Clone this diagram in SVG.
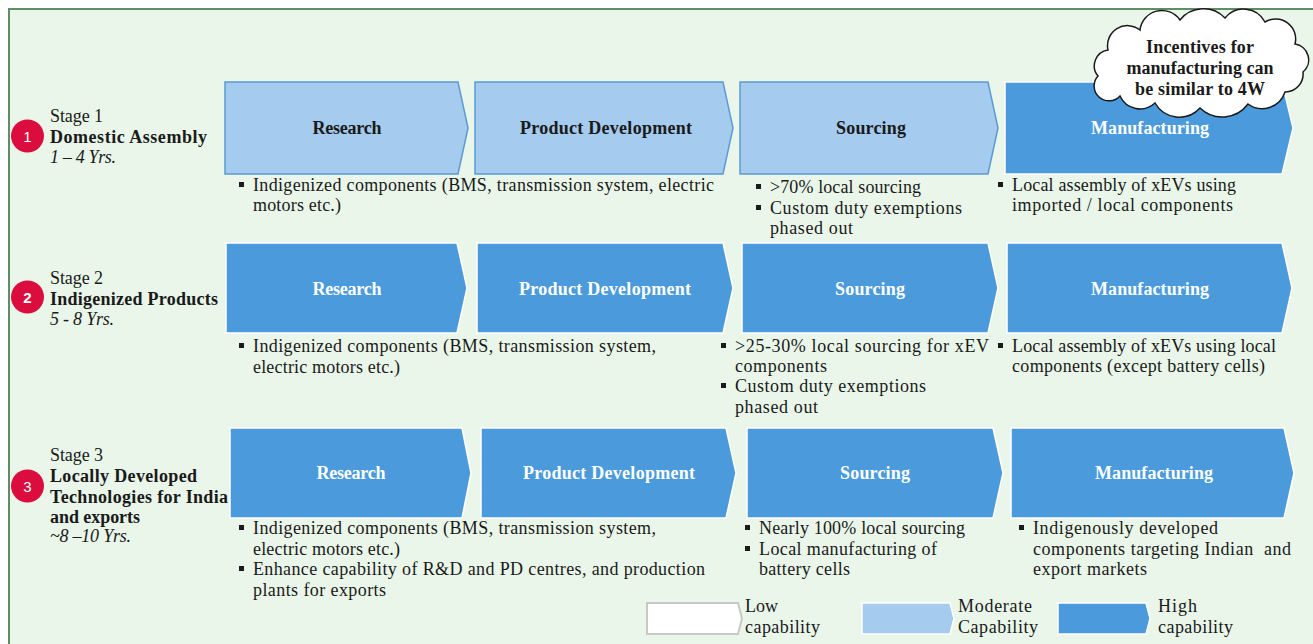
<svg xmlns="http://www.w3.org/2000/svg" width="1313" height="644" viewBox="0 0 1313 644">
<style>
.t{font-family:"Liberation Serif","Times New Roman",serif;font-size:18px;fill:#1a1a1a}
.b{font-weight:bold}
.i{font-style:italic}
.cl{font-family:"Liberation Serif",serif;font-size:18px;font-weight:bold;text-anchor:middle}
.lt{fill:#1a1a1a}
.wt{fill:#ffffff}
.mod{fill:#A5CBEE;stroke:#5B9BD5;stroke-width:1.5}
.high{fill:#4A9ADC;stroke:#ffffff;stroke-width:1.5}
.low{fill:#ffffff;stroke:#c8c8c8;stroke-width:2}
.modl{fill:#A5CBEE;stroke:#ffffff;stroke-width:1.5}
.num{font-family:"Liberation Sans",Arial,sans-serif;font-size:15px;fill:#fff;text-anchor:middle}
.bul{fill:#1a1a1a}
</style>
<rect x="0" y="0" width="1313" height="644" fill="#ffffff"/>
<rect x="9" y="9" width="1312" height="645" fill="#E9F6E9" stroke="#5E8E63" stroke-width="2"/>

<g id="stage1">
<circle cx="27.5" cy="136" r="16.5" fill="#DA0D3E"/>
<text class="num" x="27.5" y="141.5">1</text>
<text class="t" x="50" y="122" textLength="53">Stage 1</text>
<text class="t b" x="50" y="143" textLength="157">Domestic Assembly</text>
<text class="t i" x="50" y="163" textLength="66">1 – 4 Yrs.</text>
</g>
<g id="stage2">
<circle cx="27.5" cy="297" r="16.5" fill="#DA0D3E"/>
<text class="num" x="27.5" y="302.5" font-weight="bold">2</text>
<text class="t" x="50" y="284" textLength="53">Stage 2</text>
<text class="t b" x="50" y="305" textLength="168">Indigenized Products</text>
<text class="t i" x="50" y="325" textLength="64">5 - 8 Yrs.</text>
</g>
<g id="stage3">
<circle cx="27.5" cy="486" r="16.5" fill="#DA0D3E"/>
<text class="num" x="27.5" y="491.5">3</text>
<text class="t" x="50" y="461" textLength="53">Stage 3</text>
<text class="t b" x="50" y="482" textLength="147">Locally Developed</text>
<text class="t b" x="50" y="503" textLength="178">Technologies for India</text>
<text class="t b" x="50" y="523" textLength="90">and exports</text>
<text class="t i" x="50" y="542" textLength="81">~8 –10 Yrs.</text>
</g>

<!-- Row 1 -->
<g id="r1-research">
<polygon class="mod" points="225,82 458,82 468,128 458,174 225,174"/>
<text class="cl lt" x="347" y="134" textLength="69">Research</text>
</g>
<g id="r1-pd">
<polygon class="mod" points="475,82 723,82 733,128 723,174 475,174"/>
<text class="cl lt" x="606" y="134" textLength="172">Product Development</text>
</g>
<g id="r1-sourcing">
<polygon class="mod" points="740,82 988,82 998,128 988,174 740,174"/>
<text class="cl lt" x="871" y="134" textLength="70">Sourcing</text>
</g>
<g id="r1-manufacturing">
<polygon class="high" points="1005,82 1282,82 1293,128 1282,174 1005,174"/>
<text class="cl wt" x="1150" y="134" textLength="118">Manufacturing</text>
</g>

<!-- Row 2 -->
<g id="r2-research">
<polygon class="high" points="226,243 457,243 467,288 457,333 226,333"/>
<text class="cl wt" x="347" y="295" textLength="69">Research</text>
</g>
<g id="r2-pd">
<polygon class="high" points="477,243 723,243 733,288 723,333 477,333"/>
<text class="cl wt" x="605" y="295" textLength="172">Product Development</text>
</g>
<g id="r2-sourcing">
<polygon class="high" points="742,243 988,243 998,288 988,333 742,333"/>
<text class="cl wt" x="870" y="295" textLength="70">Sourcing</text>
</g>
<g id="r2-manufacturing">
<polygon class="high" points="1007,243 1282,243 1292,288 1282,333 1007,333"/>
<text class="cl wt" x="1150" y="295" textLength="118">Manufacturing</text>
</g>

<!-- Row 3 -->
<g id="r3-research">
<polygon class="high" points="230,428 462,428 471,473 462,518 230,518"/>
<text class="cl wt" x="351" y="479" textLength="69">Research</text>
</g>
<g id="r3-pd">
<polygon class="high" points="481,428 726,428 736,473 726,518 481,518"/>
<text class="cl wt" x="609" y="479" textLength="172">Product Development</text>
</g>
<g id="r3-sourcing">
<polygon class="high" points="747,428 993,428 1003,473 993,518 747,518"/>
<text class="cl wt" x="875" y="479" textLength="70">Sourcing</text>
</g>
<g id="r3-manufacturing">
<polygon class="high" points="1011,428 1284,428 1294,473 1284,518 1011,518"/>
<text class="cl wt" x="1154" y="479" textLength="118">Manufacturing</text>
</g>

<!-- Cloud -->
<g id="cloud">
<path d="M1120,96 A14,14 0 0 1 1098,76 A16,16 0 0 1 1108,50 A20,20 0 0 1 1140,30 A22,22 0 0 1 1180,20 A30,30 0 0 1 1225,18 A24,24 0 0 1 1265,22 A20,20 0 0 1 1295,44 A16,16 0 0 1 1303,72 A18,18 0 0 1 1285,92 A24,24 0 0 1 1248,104 A32,32 0 0 1 1200,108 A28,28 0 0 1 1155,103 A22,22 0 0 1 1120,96 Z" fill="#ffffff" stroke="#1a1a1a" stroke-width="1.5"/>
<text class="cl lt" x="1200" y="53" font-size="17" textLength="108">Incentives for</text>
<text class="cl lt" x="1200" y="74" font-size="17" textLength="147">manufacturing can</text>
<text class="cl lt" x="1200" y="95" font-size="17" textLength="130">be similar to 4W</text>
</g>

<!-- Bullets row 1 -->
<g id="r1-bullets">
<rect class="bul" x="239" y="182" width="5" height="5"/>
<text class="t" x="253" y="191" textLength="461">Indigenized components (BMS, transmission system, electric</text>
<text class="t" x="253" y="211" textLength="88">motors etc.)</text>
<rect class="bul" x="756" y="184" width="5" height="5"/>
<text class="t" x="770" y="193" textLength="151">&gt;70% local sourcing</text>
<rect class="bul" x="756" y="205" width="5" height="5"/>
<text class="t" x="770" y="214" textLength="192">Custom duty exemptions</text>
<text class="t" x="770" y="234" textLength="83">phased out</text>
<rect class="bul" x="998" y="182" width="5" height="5"/>
<text class="t" x="1012" y="191" textLength="224">Local assembly of xEVs using</text>
<text class="t" x="1012" y="211" textLength="221">imported / local components</text>
</g>

<!-- Bullets row 2 -->
<g id="r2-bullets">
<rect class="bul" x="239" y="343" width="5" height="5"/>
<text class="t" x="253" y="352" textLength="403">Indigenized components (BMS, transmission system,</text>
<text class="t" x="253" y="373" textLength="147">electric motors etc.)</text>
<rect class="bul" x="721" y="343" width="5" height="5"/>
<text class="t" x="735" y="352" textLength="254">&gt;25-30% local sourcing for xEV</text>
<text class="t" x="735" y="372" textLength="92">components</text>
<rect class="bul" x="721" y="383" width="5" height="5"/>
<text class="t" x="735" y="392" textLength="191">Custom duty exemptions</text>
<text class="t" x="735" y="413" textLength="83">phased out</text>
<rect class="bul" x="998" y="343" width="5" height="5"/>
<text class="t" x="1012" y="352" textLength="264">Local assembly of xEVs using local</text>
<text class="t" x="1012" y="372" textLength="253">components (except battery cells)</text>
</g>

<!-- Bullets row 3 -->
<g id="r3-bullets">
<rect class="bul" x="239" y="525" width="5" height="5"/>
<text class="t" x="253" y="534" textLength="403">Indigenized components (BMS, transmission system,</text>
<text class="t" x="253" y="555" textLength="147">electric motors etc.)</text>
<rect class="bul" x="239" y="566" width="5" height="5"/>
<text class="t" x="253" y="575" textLength="452">Enhance capability of R&amp;D and PD centres, and production</text>
<text class="t" x="253" y="596" textLength="133">plants for exports</text>
<rect class="bul" x="745" y="525" width="5" height="5"/>
<text class="t" x="759" y="534" textLength="206">Nearly 100% local sourcing</text>
<rect class="bul" x="745" y="546" width="5" height="5"/>
<text class="t" x="759" y="555" textLength="178">Local manufacturing of</text>
<text class="t" x="759" y="575" textLength="91">battery cells</text>
<rect class="bul" x="1019" y="525" width="5" height="5"/>
<text class="t" x="1033" y="534" textLength="185">Indigenously developed</text>
<text class="t" x="1033" y="555" textLength="258" xml:space="preserve">components targeting Indian  and</text>
<text class="t" x="1033" y="575" textLength="114">export markets</text>
</g>

<!-- Legend -->
<g id="legend-low">
<polygon class="low" points="647,603 738,603 742,618.5 738,634 647,634"/>
<text class="t" x="745" y="612" textLength="33">Low</text>
<text class="t" x="745" y="633" textLength="75">capability</text>
</g>
<g id="legend-moderate">
<polygon class="modl" points="862,603 950,603 954,618.5 950,634 862,634"/>
<text class="t" x="958" y="612" textLength="74">Moderate</text>
<text class="t" x="958" y="633" textLength="80">Capability</text>
</g>
<g id="legend-high">
<polygon class="high" points="1058,603 1146,603 1150,618.5 1146,634 1058,634"/>
<text class="t" x="1158" y="612" textLength="39">High</text>
<text class="t" x="1158" y="633" textLength="75">capability</text>
</g>
<g id="connectors"></g>
</svg>
